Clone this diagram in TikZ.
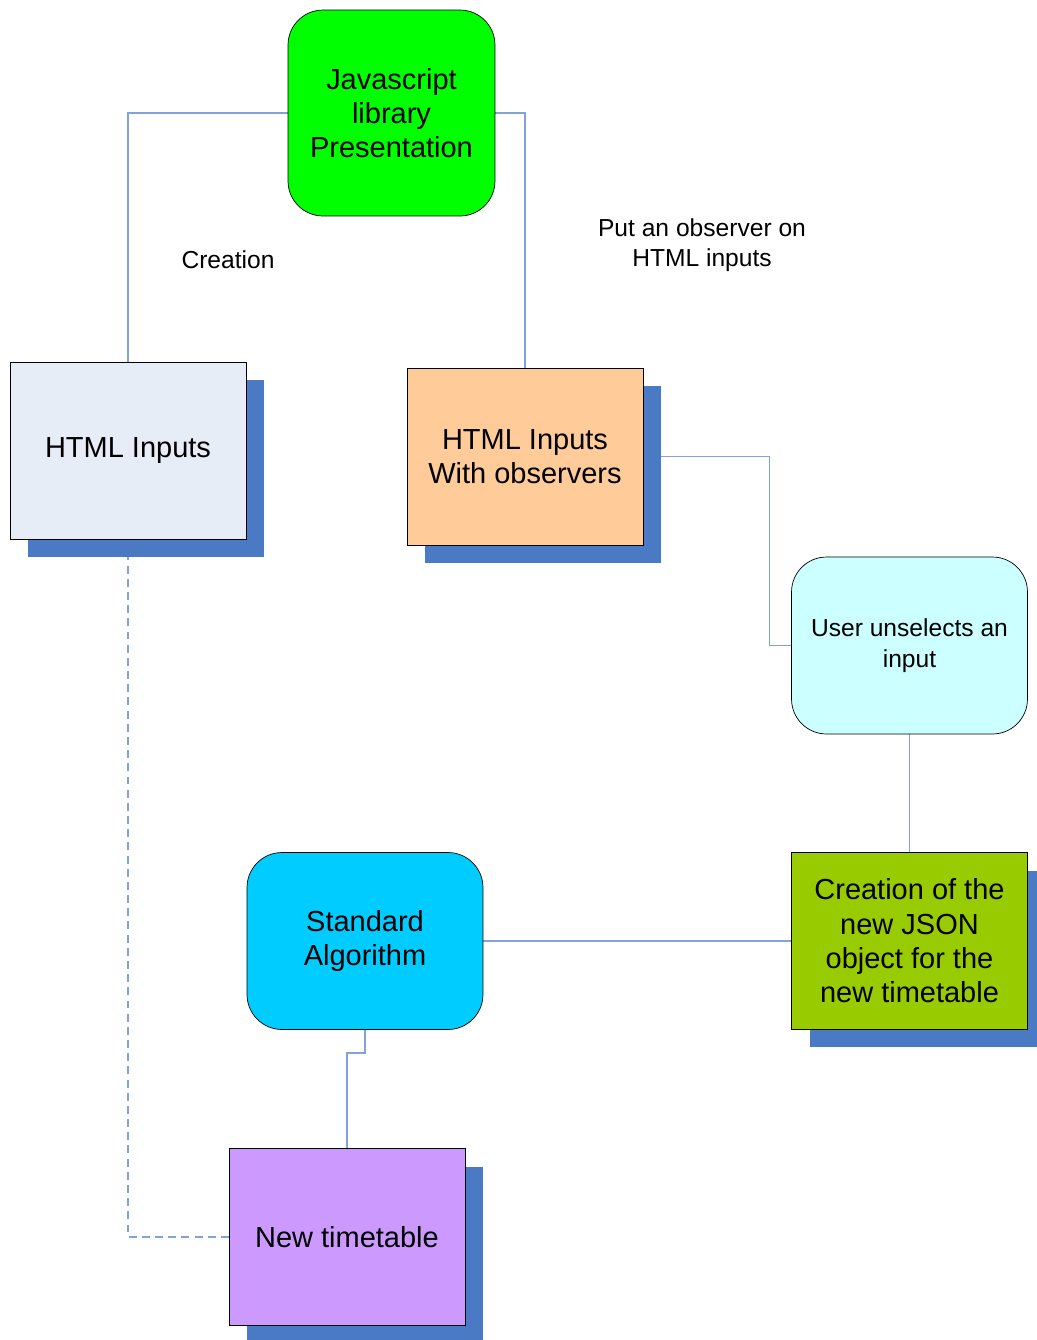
\documentclass[tikz,border=0pt]{standalone}
\usepackage{fontspec}
\setmainfont{Liberation Sans}
\usetikzlibrary{shadows,backgrounds}
\definecolor{shadowblue}{HTML}{4A7AC4}
\definecolor{linkblue}{HTML}{7FA3DA}
\definecolor{inputsfill}{HTML}{E6EDF7}
\definecolor{observedfill}{HTML}{FFCC99}
\definecolor{unselectfill}{HTML}{CCFFFF}
\definecolor{jsonfill}{HTML}{99CC00}
\definecolor{algofill}{HTML}{00CCFF}
\definecolor{timetablefill}{HTML}{CC99FF}
\tikzset{
  box/.style={draw=black, thin, minimum width=4.72cm, minimum height=3.54cm, align=center, font=\fontsize{16.5}{19.5}\selectfont},
  shadowbox/.style={box, general shadow={shadow xshift=0.36cm, shadow yshift=-0.36cm, fill=shadowblue}},
  roundbox/.style={box, rounded corners=0.7cm},
  link/.style={draw=linkblue, line width=0.75pt},
  note/.style={align=center, font=\fontsize{14}{17}\selectfont}
}
\begin{document}
\begin{tikzpicture}[x=0.02cm, y=-0.02cm]
            \useasboundingbox (0,0) rectangle (1036,1340);
            \node[roundbox, fill=green, minimum width=4.14cm, minimum height=4.12cm] (js) at (391.5,113) {Javascript\\library\\Presentation};
            \node[shadowbox, fill=inputsfill] (inputs) at (128,450.5) {HTML Inputs};
            \node[shadowbox, fill=observedfill] (observed) at (525,456.5) {HTML Inputs\\With observers};
            \node[roundbox, fill=unselectfill, font=\fontsize{14}{17.5}\selectfont] (unselect) at (909.5,645.5) {User unselects an\\input};
            \node[shadowbox, fill=jsonfill] (json) at (909.5,941) {Creation of the\\new JSON\\object for the\\new timetable};
            \node[roundbox, fill=algofill] (algo) at (365,941) {Standard\\Algorithm};
            \node[shadowbox, fill=timetablefill] (timetable) at (347,1237) {New timetable};
            \node[note] (creation) at (228,260) {Creation};
            \node[note] (observe) at (702,245) {Put an observer on\\HTML inputs};
            \begin{scope}[on background layer]
            \draw[link]  (js.west) -| (inputs.north);
            \draw[link]  (js.east) -| (observed.north);
            \draw[link]  (observed.east) -- ++(126,0) |- (unselect.west);
            \draw[link]  (unselect) edge (json);
            \draw[link]  (algo) edge (json);
            \draw[link]  (algo.south) -- ++(0,23) -| (timetable.north);
            \draw[link, dash pattern=on 4.5pt off 3pt]  (inputs.south) |- (timetable.west);
            \end{scope}
        \end{tikzpicture}
\end{document}
